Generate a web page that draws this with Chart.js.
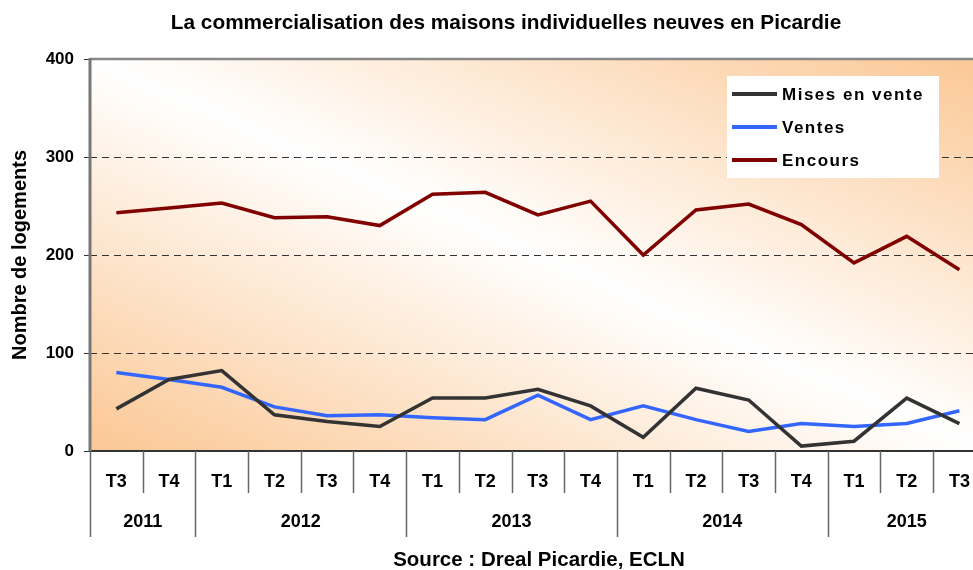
<!DOCTYPE html>
<html>
<head>
<meta charset="utf-8">
<script src="https://cdn.jsdelivr.net/npm/chart.js@4/dist/chart.umd.min.js"></script>
<style>
    html, body { margin: 0; padding: 0; overflow: hidden; background: #fff; }
</style>
</head>
<body>
<canvas id="salesChart" width="990" height="570"></canvas>
<script>
// trimestres T3 2011 -> T3 2015
const quarters = ["T3", "T4", "T1", "T2", "T3", "T4", "T1", "T2", "T3", "T4", "T1", "T2", "T3", "T4", "T1", "T2", "T3"];
const years = ["2011", "2012", "2013", "2014", "2015"];
const yearSpans = [2, 4, 4, 4, 3];

const misesEnVente = [43, 73, 82, 37, 30, 25, 54, 54, 63, 46, 14, 64, 52, 5, 10, 54, 28];
const ventes = [80, 73, 65, 45, 36, 37, 34, 32, 57, 32, 46, 32, 20, 28, 25, 28, 41];
const encours = [243, 248, 253, 238, 239, 230, 262, 264, 241, 255, 200, 246, 252, 231, 192, 219, 185];

const yTicks = [0, 100, 200, 300, 400];

const FONT = "'Liberation Sans', Arial, sans-serif";
const ORANGE = "rgb(251, 199, 148)";

const decorPlugin = {
    id: "decor",
    beforeDraw(chart) {
        const { ctx, chartArea: a } = chart;
        ctx.save();
        ctx.fillStyle = "#ffffff";
        ctx.fillRect(0, 0, chart.width, chart.height);
        // fond degrade : orange dans les coins bas-gauche / haut-droite
        ctx.translate(a.left, a.top);
        ctx.scale(a.right - a.left, a.bottom - a.top);
        const g = ctx.createLinearGradient(0, 1, 1, 0);
        g.addColorStop(0, ORANGE);
        g.addColorStop(0.5, "#ffffff");
        g.addColorStop(1, ORANGE);
        ctx.fillStyle = g;
        ctx.fillRect(0, 0, 1, 1);
        ctx.restore();
    },
    beforeDatasetsDraw(chart) {
        const { ctx, chartArea: a } = chart;
        ctx.save();
        ctx.strokeStyle = "#888888";
        ctx.lineWidth = 2.5;
        ctx.beginPath();
        ctx.moveTo(a.left, a.top);
        ctx.lineTo(a.right, a.top);
        ctx.stroke();
        ctx.strokeStyle = "#777777";
        ctx.lineWidth = 3;
        ctx.beginPath();
        ctx.moveTo(a.left, a.top - 1);
        ctx.lineTo(a.left, a.bottom);
        ctx.stroke();
        ctx.restore();
    },
    afterDraw(chart) {
        const { ctx, chartArea: a } = chart;
        const xs = chart.scales.x;
        const half = (xs.getPixelForValue(1) - xs.getPixelForValue(0)) / 2;

        ctx.save();
        // separateurs trimestres / annees
        const yearEdges = [0];
        yearSpans.forEach(s => yearEdges.push(yearEdges[yearEdges.length - 1] + s));
        ctx.strokeStyle = "#666666";
        ctx.lineWidth = 1.5;
        for (let i = 0; i <= quarters.length; i++) {
            const x = Math.round(xs.getPixelForValue(i) - half) + 0.5;
            const isYear = yearEdges.includes(i);
            ctx.beginPath();
            ctx.moveTo(x, a.bottom);
            ctx.lineTo(x, isYear ? a.bottom + 86 : a.bottom + 42);
            ctx.stroke();
        }

        ctx.fillStyle = "#000000";
        ctx.font = "bold 18px " + FONT;
        ctx.textAlign = "center";
        ctx.textBaseline = "middle";
        years.forEach((y, i) => {
            const start = yearEdges[i];
            const end = yearEdges[i + 1];
            const x = (xs.getPixelForValue(start) + xs.getPixelForValue(end - 1)) / 2;
            ctx.fillText(y, x, 522);
        });

        // titre et source
        ctx.font = "bold 20.8px " + FONT;
        ctx.fillText("La commercialisation des maisons individuelles neuves en Picardie", 506, 23);
        ctx.font = "bold 20.5px " + FONT;
        ctx.fillText("Source : Dreal Picardie, ECLN", 539, 560);

        // legende
        ctx.fillStyle = "#ffffff";
        ctx.fillRect(727, 76, 212, 102);
        ctx.textAlign = "left";
        ctx.font = "bold 17px " + FONT;
        ctx.letterSpacing = "1.5px";
        chart.data.datasets.forEach((ds, i) => {
            const y = 94 + i * 33;
            ctx.strokeStyle = ds.borderColor;
            ctx.lineWidth = 4;
            ctx.beginPath();
            ctx.moveTo(732, y);
            ctx.lineTo(777, y);
            ctx.stroke();
            ctx.fillStyle = "#000000";
            ctx.fillText(ds.label, 782, y + 1);
        });
        ctx.restore();
    }
};

const ctx = document.getElementById("salesChart");

new Chart(ctx, {
    type: "line",
    data: {
        labels: quarters,
        datasets: [
            {
                label: "Mises en vente",
                data: misesEnVente,
                borderColor: "#333333",
                borderWidth: 3.5,
                pointRadius: 0,
                tension: 0
            },
            {
                label: "Ventes",
                data: ventes,
                borderColor: "#3366ff",
                borderWidth: 3.5,
                pointRadius: 0,
                tension: 0
            },
            {
                label: "Encours",
                data: encours,
                borderColor: "#800000",
                borderWidth: 3.5,
                pointRadius: 0,
                tension: 0
            }
        ]
    },
    options: {
        responsive: false,
        animation: false,
        layout: {
            padding: { top: 59, left: 0, right: 3, bottom: 0 }
        },
        plugins: {
            legend: { display: false },
            title: { display: false },
            tooltip: { enabled: false }
        },
        scales: {
            x: {
                offset: true,
                grid: { display: false, drawTicks: false },
                border: { display: true, color: "#333333", width: 2 },
                ticks: {
                    color: "#000000",
                    padding: 20,
                    maxRotation: 0,
                    autoSkip: false,
                    font: { family: FONT, size: 18, weight: "bold" }
                },
                afterFit(scale) {
                    scale.height = 119;
                }
            },
            y: {
                min: 0,
                max: 400,
                afterBuildTicks(scale) {
                    scale.ticks = yTicks.map(v => ({ value: v }));
                },
                ticks: {
                    color: "#000000",
                    padding: 10,
                    font: { family: FONT, size: 17, weight: "bold" }
                },
                grid: {
                    color: c => (c.tick && c.tick.value > 0 && c.tick.value < 400) ? "#333333" : "rgba(0,0,0,0)",
                    tickColor: "#333333",
                    tickLength: 6,
                    tickBorderDash: [],
                    lineWidth: 1
                },
                border: { display: false, dash: [7, 5] },
                title: {
                    display: true,
                    text: "Nombre de logements",
                    color: "#000000",
                    padding: { top: 8, bottom: 0 },
                    font: { family: FONT, size: 20, weight: "bold" }
                },
                afterFit(scale) {
                    scale.width = 90;
                }
            }
        }
    },
    plugins: [decorPlugin]
});
</script>
</body>
</html>
